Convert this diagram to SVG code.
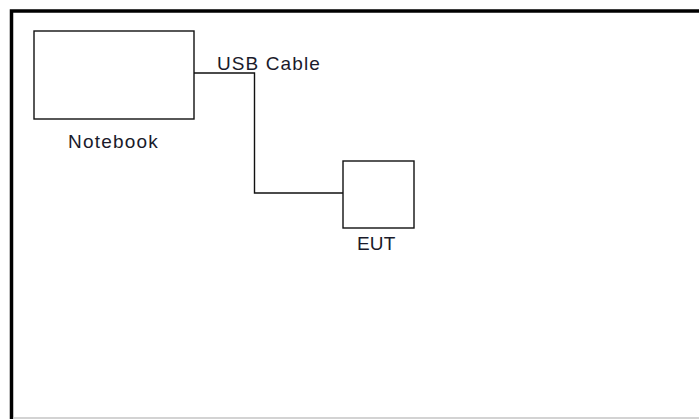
<svg xmlns="http://www.w3.org/2000/svg" width="699" height="419" viewBox="0 0 699 419">
  <style>
    .box { fill: #ffffff; stroke: #111111; stroke-width: 1.4; }
    .wire { fill: none; stroke: #111111; stroke-width: 1.4; }
    .lbl { font-family: "Liberation Sans", Arial, sans-serif; font-size: 19px; fill: #1a1a2a; }
  </style>
  <rect x="0" y="0" width="699" height="419" fill="#ffffff"/>
  <g id="frame">
    <path d="M11.5 419 V11 H699" fill="none" stroke="#000000" stroke-width="3.5"/>
    <line x1="13" y1="418" x2="699" y2="418" stroke="#c4c4c4" stroke-width="1.5"/>
  </g>
  <g id="connectors">
    <path class="wire" d="M194 73 H254.5 V193 H343"/>
    <text class="lbl" x="217" y="70" style="letter-spacing:1.1px">USB Cable</text>
  </g>
  <g id="notebook">
    <rect class="box" x="34" y="31" width="160" height="88"/>
    <text class="lbl" x="68" y="148" style="letter-spacing:1.2px">Notebook</text>
  </g>
  <g id="eut">
    <rect class="box" x="343" y="161" width="71" height="67"/>
    <text class="lbl" x="357" y="250" style="letter-spacing:0.2px">EUT</text>
  </g>
</svg>
